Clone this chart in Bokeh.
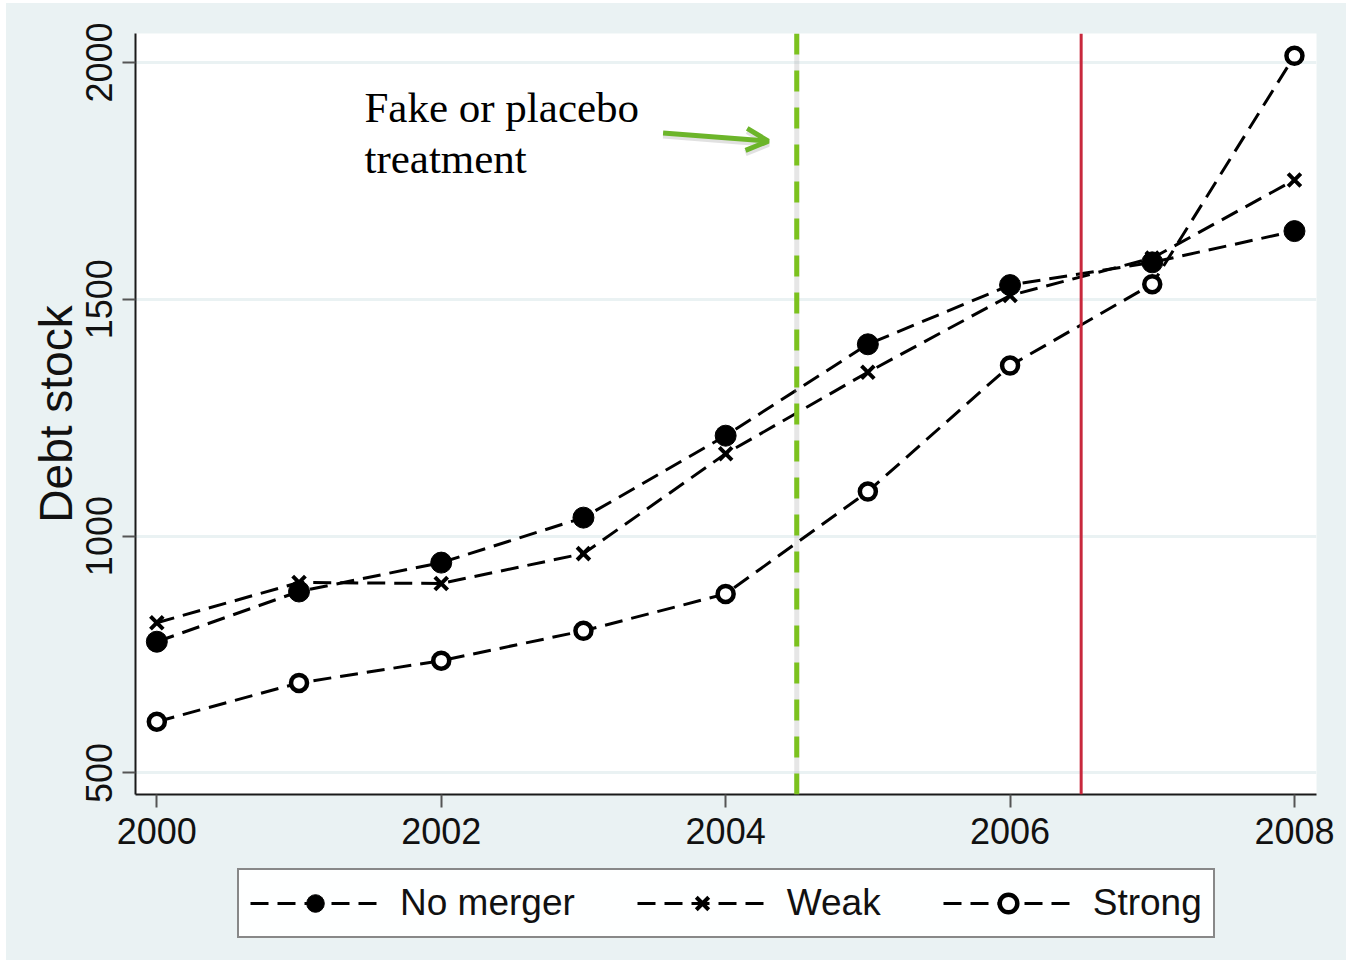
from bokeh.embed import file_html
from bokeh.layouts import column
from bokeh.models import (Arrow, FixedTicker, Label, Legend, LegendItem,
                          OpenHead, Range1d, Span)
from bokeh.plotting import figure
from bokeh.resources import INLINE

# Debt stock by merger group, 2000-2008
years = [2000, 2001, 2002, 2003, 2004, 2005, 2006, 2007, 2008]
no_merger = [777, 883, 944, 1039, 1212, 1405, 1530, 1578, 1644]
weak = [817, 902, 900, 963, 1174, 1346, 1508, 1587, 1752]
strong = [608, 690, 737, 800, 878, 1094, 1360, 1532, 2014]
group_names = ["No merger", "Weak", "Strong"]

x_ticks = [2000, 2002, 2004, 2006, 2008]
y_ticks = [500, 1000, 1500, 2000]

placebo_year = 2004.5
treatment_year = 2006.5

BG = "#eaf2f3"
SANS = "Liberation Sans"
SERIF = "Liberation Serif"
DASH = "18 9"

# marker styles per group
STYLES = [
    dict(marker="circle", size=21, fill_color="black", line_color="black", line_width=1),
    dict(marker="x", size=18, line_color="black", line_width=4),
    dict(marker="circle", size=16, fill_color="white", line_color="black", line_width=4.5),
]
SERIES = [no_merger, weak, strong]

p = figure(
    output_backend="svg",
    toolbar_location=None,
    frame_width=1181,
    frame_height=761,
    min_border_left=129,
    min_border_top=30,
    min_border_right=30,
    min_border_bottom=70,
    x_range=Range1d(1999.850, 2008.155),
    y_range=Range1d(454.4, 2061.2),
    background_fill_color="white",
    border_fill_color=BG,
    outline_line_color=None,
)

# axes
p.xaxis.ticker = FixedTicker(ticks=x_ticks)
p.yaxis.ticker = FixedTicker(ticks=y_ticks)
p.xgrid.grid_line_color = None
p.ygrid.grid_line_color = BG
p.ygrid.grid_line_width = 3

for ax in (p.xaxis[0], p.yaxis[0]):
    ax.axis_line_color = "#1a1a1a"
    ax.axis_line_width = 2
    ax.major_tick_line_color = "#555555"
    ax.major_tick_line_width = 2
    ax.major_tick_out = 13
    ax.major_tick_in = 0
    ax.minor_tick_line_color = None
    ax.major_label_text_font = SANS
    ax.major_label_text_font_size = "36px"
    ax.major_label_text_color = "#111111"
    ax.major_label_standoff = 10

p.yaxis.major_label_orientation = "parallel"
p.yaxis.axis_label = "Debt stock"
p.yaxis.axis_label_text_font = SANS
p.yaxis.axis_label_text_font_size = "46px"
p.yaxis.axis_label_text_font_style = "normal"
p.yaxis.axis_label_text_color = "#111111"
p.yaxis.axis_label_standoff = 2

# reference lines: placebo (green, dashed with soft shadow) and actual treatment (red)
p.add_layout(Span(location=placebo_year, dimension="height",
                  line_color="#9a9a9a", line_alpha=0.25, line_width=5))
p.add_layout(Span(location=placebo_year, dimension="height",
                  line_color="#7cc21e", line_width=5, line_dash="21 16"))
p.add_layout(Span(location=treatment_year, dimension="height",
                  line_color="#c8283c", line_width=3))

# series
for vals, style in zip(SERIES, STYLES):
    p.line(years, vals, line_color="black", line_width=3, line_dash=DASH)
    p.scatter(years, vals, **style)

# annotation with arrow pointing to the placebo line
p.add_layout(Label(x=2001.46, y=1906, text="Fake or placebo",
                   text_font=SERIF, text_font_size="43px",
                   text_color="black", text_baseline="middle"))
p.add_layout(Label(x=2001.46, y=1798, text="treatment",
                   text_font=SERIF, text_font_size="43px",
                   text_color="black", text_baseline="middle"))
p.add_layout(Arrow(x_start=2003.56, y_start=1846, x_end=2004.30, y_end=1828,
                   line_color="#9a9a9a", line_alpha=0.3, line_width=6,
                   end=OpenHead(size=22, line_color="#9a9a9a", line_alpha=0.3,
                                line_width=6)))
p.add_layout(Arrow(x_start=2003.56, y_start=1851, x_end=2004.30, y_end=1834,
                   line_color="#6cb52a", line_width=5,
                   end=OpenHead(size=22, line_color="#6cb52a", line_width=5)))

# legend strip under the chart; its ranges keep the series themselves out of view,
# so only the legend samples are drawn
leg_fig = figure(
    output_backend="svg",
    toolbar_location=None,
    frame_width=1340,
    frame_height=96,
    min_border=0,
    x_axis_type=None,
    y_axis_type=None,
    x_range=Range1d(0, 1),
    y_range=Range1d(0, 1),
    background_fill_color=BG,
    border_fill_color=BG,
    outline_line_color=None,
)
leg_fig.xgrid.grid_line_color = None
leg_fig.ygrid.grid_line_color = None

items = []
for name, vals, style in zip(group_names, SERIES, STYLES):
    lr = leg_fig.line(years, vals, line_color="black", line_width=3, line_dash=DASH)
    mr = leg_fig.scatter(years, vals, **style)
    items.append(LegendItem(label=name, renderers=[lr, mr]))

legend = Legend(
    items=items,
    orientation="horizontal",
    location=(231, 22),
    label_text_font=SANS,
    label_text_font_size="37px",
    label_text_color="#111111",
    glyph_width=130,
    glyph_height=44,
    label_standoff=20,
    spacing=62,
    padding=11,
    margin=0,
    border_line_color="#111111",
    border_line_width=2,
    background_fill_color="white",
)
leg_fig.add_layout(legend)

layout = column(p, leg_fig, spacing=0, margin=(3, 0, 0, 6),
                styles={"background-color": BG})
open("out.html", "w").write(file_html(layout, INLINE))
